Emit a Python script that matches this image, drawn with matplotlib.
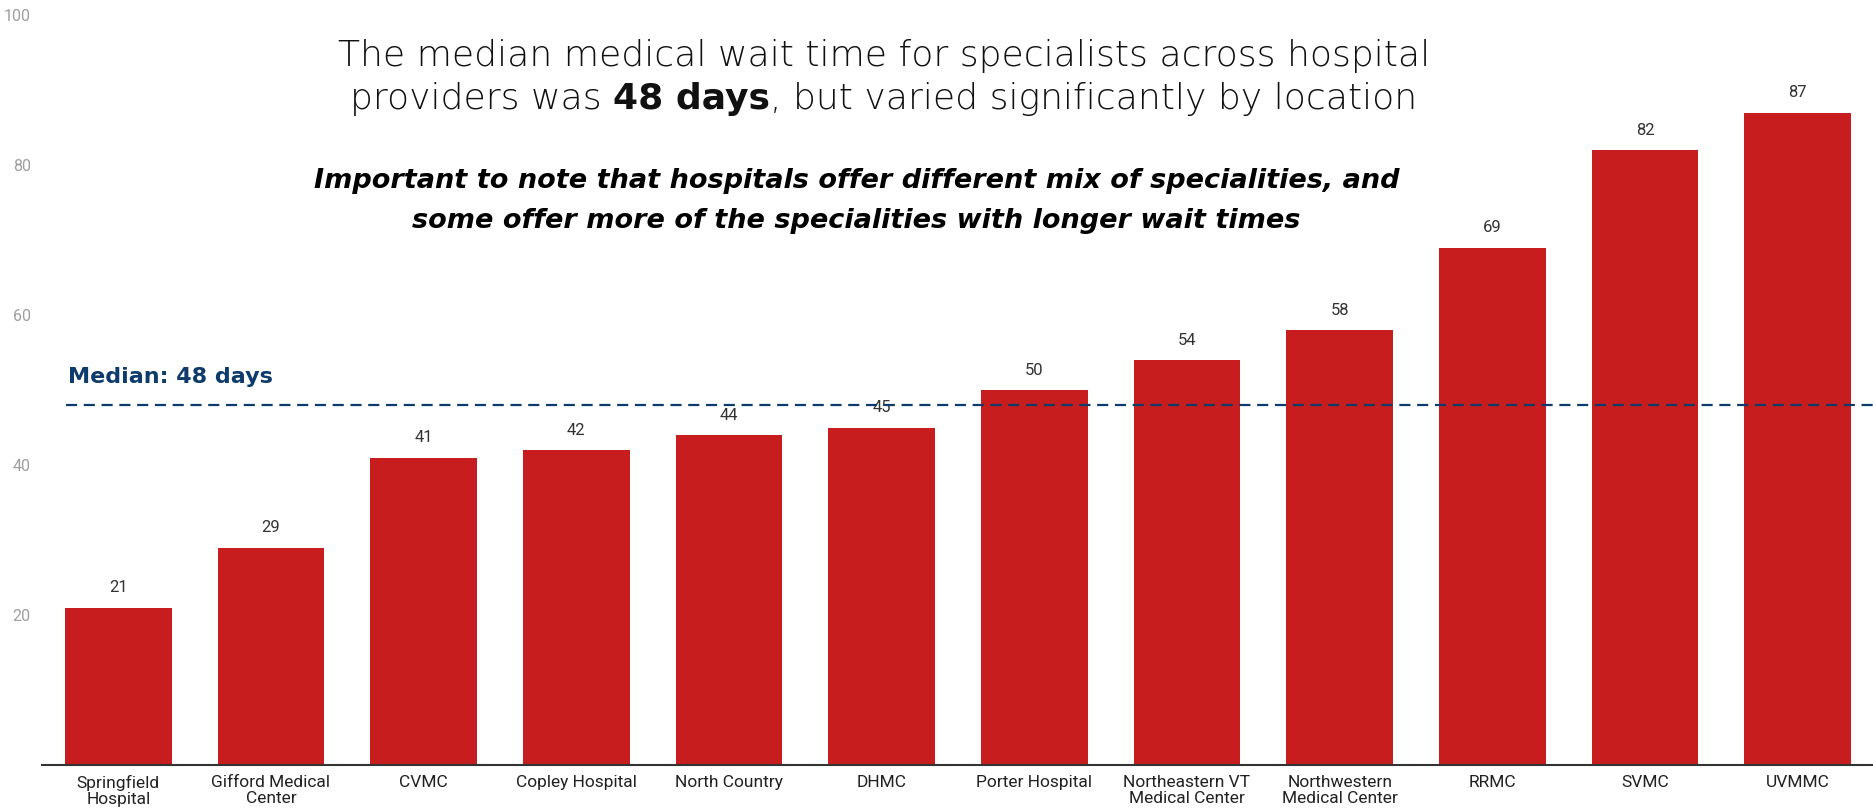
import numpy as np
import matplotlib
matplotlib.use('Agg')
import matplotlib.pyplot as plt

hospitals = ['Springfield\nHospital', 'Gifford Medical\nCenter', 'CVMC', 'Copley Hospital',
             'North Country', 'DHMC', 'Porter Hospital', 'Northeastern VT\nMedical Center',
             'Northwestern\nMedical Center', 'RRMC', 'SVMC', 'UVMMC']
wait_days = [21, 29, 41, 42, 44, 45, 50, 54, 58, 69, 82, 87]
median_days = 48
y_ticks = [20, 40, 60, 80, 100]

BAR_RED = '#c71d1f'
NAVY = '#0d3b6b'

fig = plt.figure(figsize=(18.74, 8.11), dpi=100)
ax = fig.add_axes([0.0224, 0.0567, 0.9776, 0.9248])

x = np.arange(len(hospitals))
ax.bar(x, wait_days, width=0.70, color=BAR_RED, zorder=2)
for xi, v in zip(x, wait_days):
  ax.annotate(str(v), (xi, v), xytext=(0, 9), textcoords='offset points',
              ha='center', va='bottom', fontsize=12, color='#333333', family='Roboto')

ax.set_xlim(-0.5, len(hospitals) - 0.5)
ax.set_ylim(0, 100)
ax.set_yticks(y_ticks)
ax.set_yticklabels([str(t) for t in y_ticks], family='Roboto', fontsize=11.5, color='#9e9e9e')
ax.set_xticks(x)
ax.set_xticklabels(hospitals, family='Roboto', fontsize=12.5, color='#222222', linespacing=1.1)
ax.tick_params(axis='both', length=0)
ax.tick_params(axis='x', pad=7)
ax.tick_params(axis='y', pad=8)
for s in ['top', 'right', 'left']:
  ax.spines[s].set_visible(False)
ax.spines['bottom'].set_color('#333333')
ax.spines['bottom'].set_linewidth(1.5)
ax.spines['bottom'].set_zorder(3)

# median reference line
ax.axhline(median_days, xmin=0.013, xmax=1, color=NAVY, lw=1.6, ls=(0, (5, 3)), zorder=3)
ax.text(-0.33, median_days + 3.8, 'Median: 48 days', color=NAVY, fontsize=16,
        fontweight='bold', family='DejaVu Sans', va='center', ha='left')

# title, line 2 has a bold piece in the middle
title_x = 0.4717
TITLE_FONT = dict(fontsize=26, family='DejaVu Sans', color='#111111')
fig.text(title_x, 0.931, 'The median medical wait time for specialists across hospital',
         ha='center', va='center', fontweight=200, **TITLE_FONT)
parts = [('providers was ', 200), ('48 days', 'bold'), (', but varied significantly by location', 200)]
fig.canvas.draw()
r = fig.canvas.get_renderer()
texts = []
for s, w in parts:
  t = fig.text(0, 0.878, s, ha='left', va='center', fontweight=w, **TITLE_FONT)
  texts.append(t)
widths = [t.get_window_extent(r).width for t in texts]
fw = fig.bbox.width
xpos = title_x * fw - sum(widths) / 2
for t, w in zip(texts, widths):
  t.set_x(xpos / fw)
  xpos += w

note_lines = ['Important to note that hospitals offer different mix of specialities, and',
              'some offer more of the specialities with longer wait times']
for yy, line in zip([0.777, 0.727], note_lines):
  fig.text(0.457, yy, line, ha='center', va='center', fontsize=19.5, family='DejaVu Sans',
           fontweight='bold', style='italic', color='black')

fig.savefig('out.png', dpi=100)
